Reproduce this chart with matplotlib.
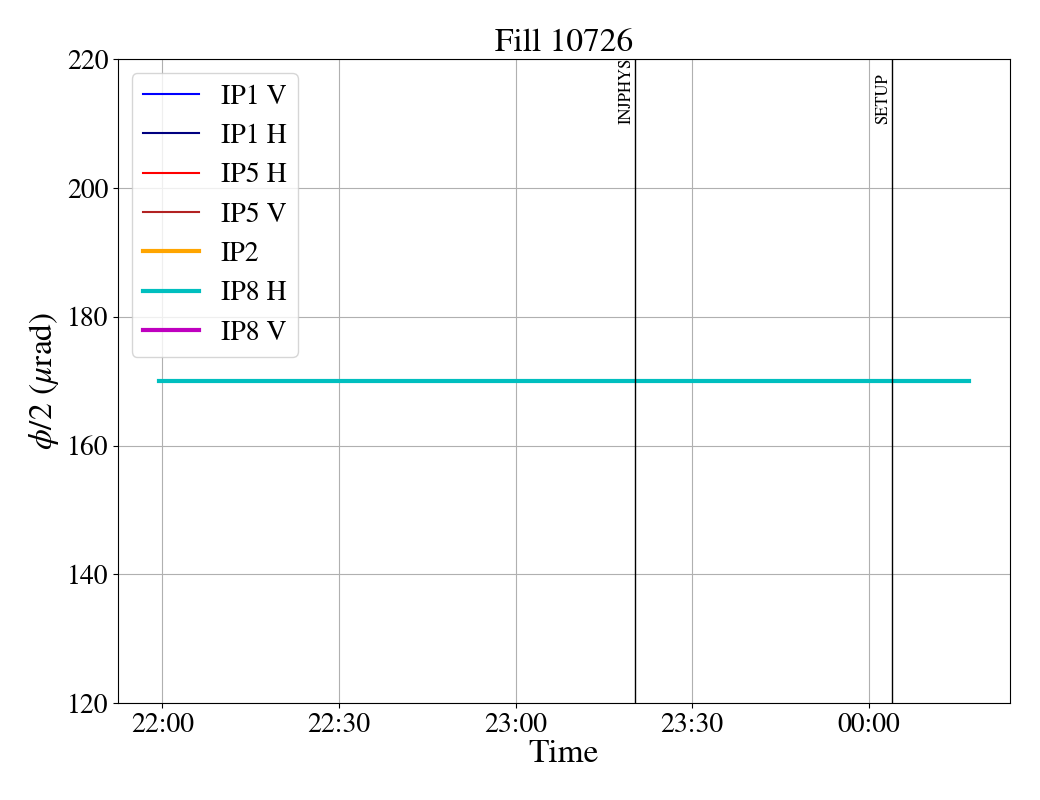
import matplotlib
matplotlib.use("Agg")
import matplotlib.pyplot as plt
import matplotlib.dates as mdates
import pandas as pd

plt.rcParams['font.family'] = ['STIXGeneral', 'Liberation Serif', 'DejaVu Serif']
plt.rcParams['mathtext.fontset'] = 'stix'

title = "Fill 10726"
series_labels = ["IP1 V", "IP1 H", "IP5 H", "IP5 V", "IP2", "IP8 H", "IP8 V"]
series_colors = ["blue", "navy", "red", "firebrick", "orange", "c", "m"]
series_widths = [1.5, 1.5, 1.5, 1.5, 3, 3, 3]
ip8h_times = ["2023-06-10 21:59:20", "2023-06-11 00:17:07"]
ip8h_values = [170, 170]
mode_times = ["2023-06-10 23:20:20", "2023-06-11 00:03:55"]
mode_names = ["INJPHYS", "SETUP"]

fig, ax = plt.subplots(figsize=(10.4, 8), dpi=100)
fig.subplots_adjust(left=0.1135, right=0.971, top=0.926, bottom=0.121)

t = pd.to_datetime(ip8h_times)
for lab, col, lw in zip(series_labels, series_colors, series_widths):
    if lab == "IP8 H":
        ax.plot(t, ip8h_values, color=col, lw=lw, label=lab)
    else:
        ax.plot([], [], color=col, lw=lw, label=lab)

ax.set_ylim(120, 220)
for mt, mn in zip(pd.to_datetime(mode_times), mode_names):
    ax.axvline(mt, color='black', lw=1)
    ax.text(mt, 210, mn, rotation=90, ha='right', va='bottom', fontsize=12)

ax.xaxis.set_major_locator(mdates.MinuteLocator(byminute=[0, 30]))
ax.xaxis.set_major_formatter(mdates.DateFormatter('%H:%M'))
ax.grid(True)
ax.tick_params(labelsize=20)
ax.set_title(title, fontsize=24)
ax.set_xlabel("Time", fontsize=24, labelpad=1)
ax.set_ylabel(r"$\phi/2$ ($\mu$rad)", fontsize=24)
ax.legend(loc='upper left', fontsize=20)
fig.savefig("out.png", dpi=100)
